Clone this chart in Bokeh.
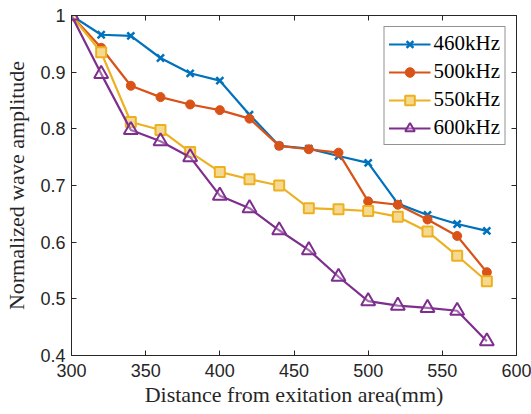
from bokeh.plotting import figure
from bokeh.models import (Range1d, FixedTicker, LinearAxis, Legend, LegendItem,
                          CustomJSTickFormatter)
from bokeh.embed import file_html
from bokeh.resources import INLINE

distance = [300, 320, 340, 360, 380, 400, 420, 440, 460, 480, 500, 520, 540, 560, 580]
amp_460 = [1.0, 0.966, 0.964, 0.925, 0.898, 0.885, 0.825, 0.770, 0.765, 0.752, 0.740, 0.668, 0.648, 0.632, 0.620]
amp_500 = [1.0, 0.943, 0.876, 0.856, 0.843, 0.833, 0.818, 0.770, 0.764, 0.758, 0.672, 0.666, 0.640, 0.611, 0.547]
amp_550 = [1.0, 0.935, 0.812, 0.798, 0.759, 0.724, 0.711, 0.700, 0.660, 0.658, 0.655, 0.645, 0.619, 0.576, 0.531]
amp_600 = [1.0, 0.897, 0.798, 0.778, 0.750, 0.682, 0.660, 0.621, 0.586, 0.539, 0.496, 0.488, 0.484, 0.479, 0.425]
labels = ["460kHz", "500kHz", "550kHz", "600kHz"]
x_ticks = [300, 350, 400, 450, 500, 550, 600]
y_ticks = [0.4, 0.5, 0.6, 0.7, 0.8, 0.9, 1.0]

FONT = "Liberation Serif"
TICKFONT = "Liberation Sans"
AXC = "#262626"

p = figure(width=531, height=414, output_backend="svg", toolbar_location=None,
           x_range=Range1d(300, 600), y_range=Range1d(0.4, 1.0),
           min_border_left=71, min_border_right=15, min_border_top=15, min_border_bottom=59)
p.grid.visible = False
p.outline_line_color = AXC
p.outline_line_width = 1
p.background_fill_color = "white"
p.border_fill_color = "white"

fmt = CustomJSTickFormatter(code="return String(Math.round(tick*10)/10);")
blank = CustomJSTickFormatter(code="return '';")

def style_axis(ax, show_labels=True):
    ax.axis_line_color = AXC
    ax.major_tick_line_color = AXC
    ax.major_tick_in = 5
    ax.major_tick_out = 0
    ax.minor_tick_line_color = None
    ax.major_label_text_font = TICKFONT
    ax.major_label_text_font_size = "18px"
    ax.major_label_text_color = AXC
    ax.axis_label_text_font = FONT
    ax.axis_label_text_font_size = "22px"
    ax.axis_label_text_font_style = "normal"
    ax.axis_label_text_color = AXC
    if not show_labels:
        ax.formatter = blank
        ax.major_label_standoff = 0

p.xaxis.ticker = FixedTicker(ticks=x_ticks)
p.yaxis.ticker = FixedTicker(ticks=y_ticks)
p.yaxis.formatter = fmt
p.xaxis.axis_label = "Distance from exitation area(mm)"
p.yaxis.axis_label = "Normalized wave amplitude"
style_axis(p.xaxis[0])
style_axis(p.yaxis[0])
p.xaxis.major_label_standoff = 8
p.yaxis.major_label_standoff = 6
p.xaxis.axis_label_standoff = 2
p.yaxis.axis_label_standoff = 8

top = LinearAxis(ticker=FixedTicker(ticks=x_ticks))
right = LinearAxis(ticker=FixedTicker(ticks=y_ticks))
style_axis(top, False)
style_axis(right, False)
p.add_layout(top, "above")
p.add_layout(right, "right")

colors = ["#0072BD", "#D95319", "#EDB120", "#7E2F8E"]
series = [amp_460, amp_500, amp_550, amp_600]
items = []
for i, (ys, c, lab) in enumerate(zip(series, colors, labels)):
    ln = p.line(distance, ys, line_color=c, line_width=2.2)
    if i == 0:
        sc = p.scatter(distance, ys, marker="x", size=10, line_color=c, line_width=2.5)
    elif i == 1:
        sc = p.scatter(distance, ys, marker="circle", size=9, line_color=c, fill_color=c)
    elif i == 2:
        sc = p.scatter(distance, ys, marker="square", size=10, line_color=c, line_width=2,
                       fill_color="#F6D990")
    else:
        sc = p.scatter(distance, ys, marker="triangle", size=14, line_color=c, line_width=2,
                       fill_color="white", fill_alpha=0.3)
    items.append(LegendItem(label=lab, renderers=[ln, sc]))

legend = Legend(items=items, location="top_right")
legend.label_text_font = FONT
legend.label_text_font_size = "21px"
legend.label_text_color = "black"
legend.border_line_color = AXC
legend.border_line_width = 1
legend.background_fill_alpha = 1
legend.glyph_width = 42
legend.glyph_height = 24
legend.label_height = 24
legend.spacing = 3
legend.padding = 4
legend.margin = 11
legend.label_standoff = 3
p.add_layout(legend)

open("out.html", "w").write(file_html(p, INLINE))
